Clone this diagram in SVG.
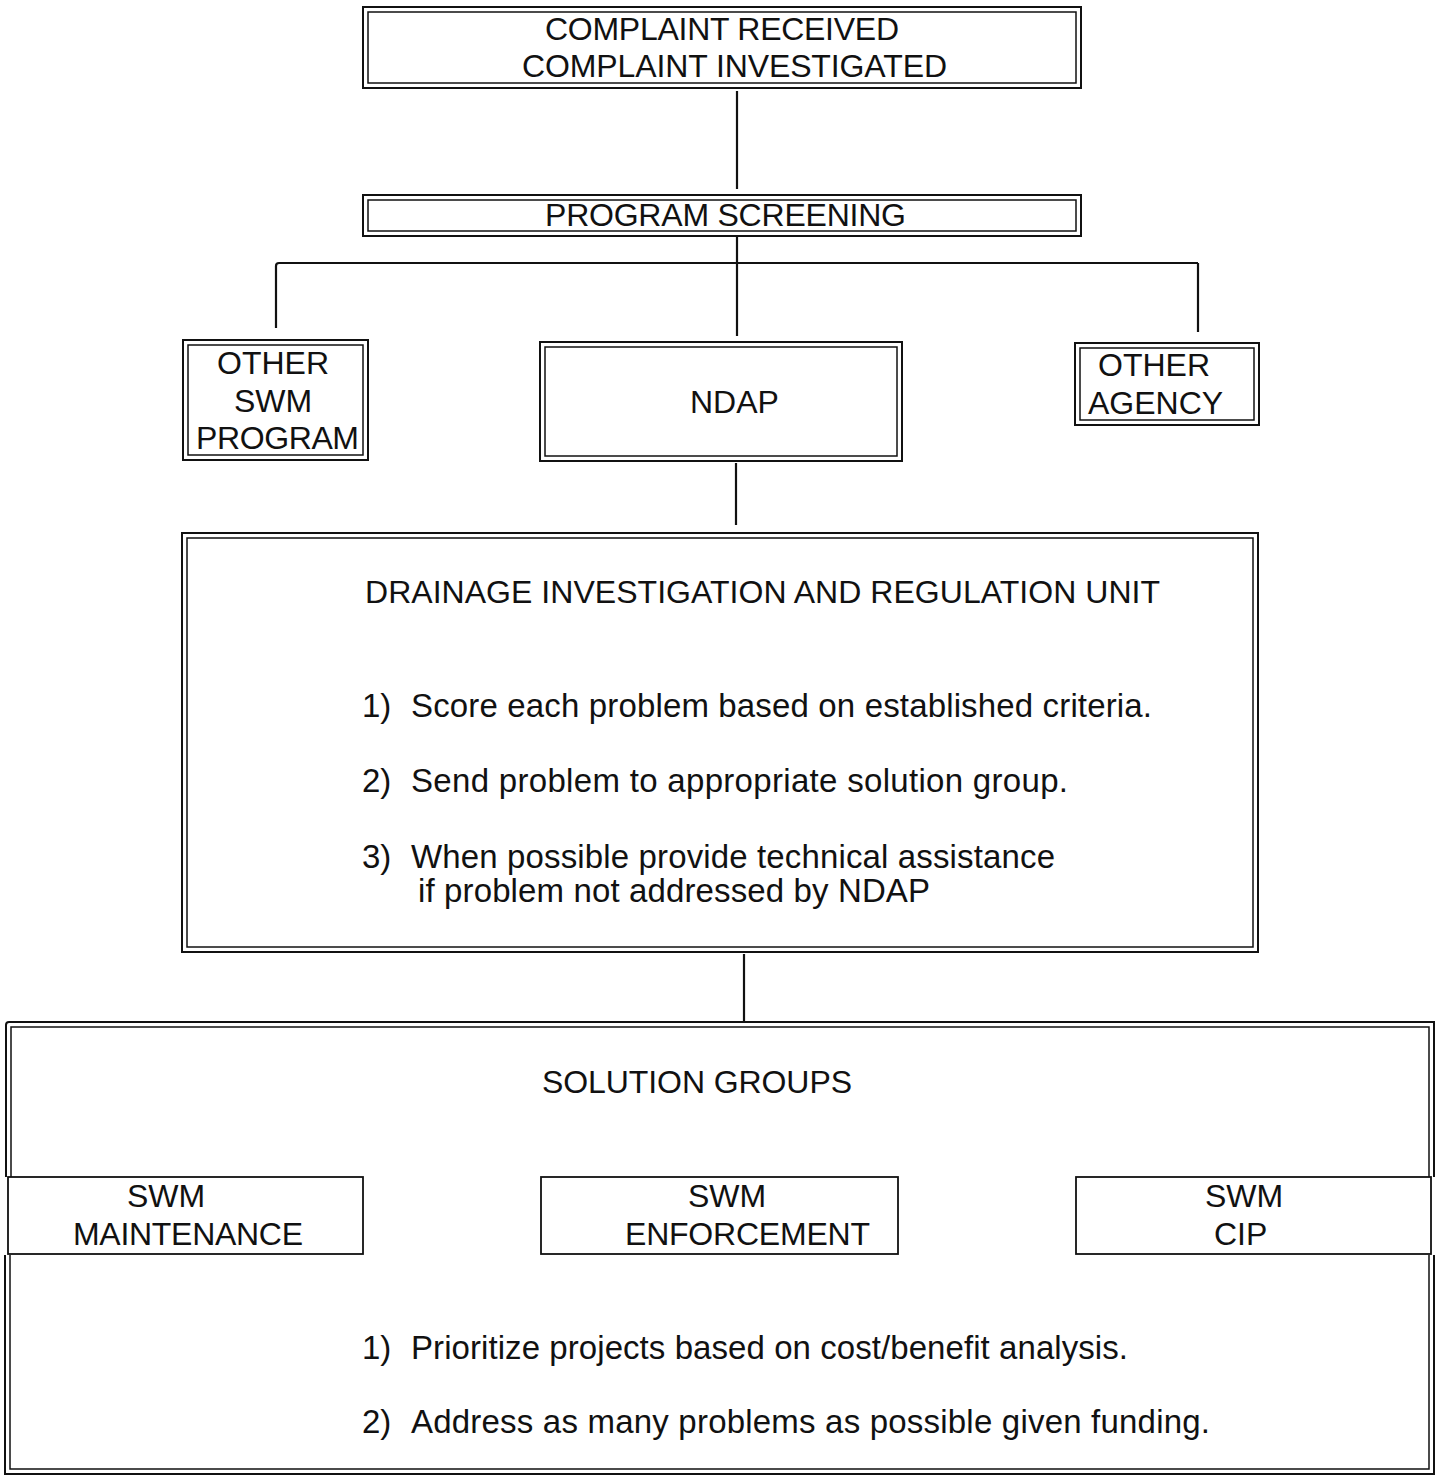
<svg xmlns="http://www.w3.org/2000/svg" width="1440" height="1476" viewBox="0 0 1440 1476">
<style>
  .bg { fill: #ffffff; }
  .outer { fill: none; stroke: #111111; stroke-width: 2; }
  .inner { fill: none; stroke: #111111; stroke-width: 1.5; }
  .single { fill: none; stroke: #111111; stroke-width: 1.8; }
  .conn { fill: none; stroke: #111111; stroke-width: 2.2; }
  .cap { font-family: "Liberation Sans", Arial, Helvetica, sans-serif; font-size: 32px; fill: #111111; }
  .body { font-family: "Liberation Sans", Arial, Helvetica, sans-serif; font-size: 33px; fill: #111111; }
</style>
<rect class="bg" x="0" y="0" width="1440" height="1476"/>

<g id="connectors">
  <line class="conn" x1="737" y1="91" x2="737" y2="189"/>
  <line class="conn" x1="737" y1="237" x2="737" y2="336"/>
  <path class="conn" d="M276,328 V266 Q276,263 279,263 H1198"/>
  <line class="conn" x1="1198" y1="263" x2="1198" y2="332"/>
  <line class="conn" x1="736" y1="463" x2="736" y2="525"/>
  <line class="conn" x1="744" y1="954" x2="744" y2="1021"/>
</g>

<g id="complaint">
  <rect class="outer" x="363" y="7" width="718" height="81"/>
  <rect class="inner" x="368" y="12" width="708" height="71"/>
  <text class="cap" x="545" y="40" textLength="354">COMPLAINT RECEIVED</text>
  <text class="cap" x="522" y="77" textLength="425">COMPLAINT INVESTIGATED</text>
</g>

<g id="screening">
  <rect class="outer" x="363" y="195" width="718" height="41"/>
  <rect class="inner" x="368" y="200" width="708" height="31"/>
  <text class="cap" x="545" y="226" textLength="361">PROGRAM SCREENING</text>
</g>

<g id="other-swm">
  <rect class="outer" x="183" y="340" width="185" height="120"/>
  <rect class="inner" x="188" y="345" width="175" height="110"/>
  <text class="cap" x="217" y="374">OTHER</text>
  <text class="cap" x="234" y="412">SWM</text>
  <text class="cap" x="196" y="449" textLength="163">PROGRAM</text>
</g>

<g id="ndap">
  <rect class="outer" x="540" y="342" width="362" height="119"/>
  <rect class="inner" x="545" y="347" width="352" height="109"/>
  <text class="cap" x="690" y="413">NDAP</text>
</g>

<g id="other-agency">
  <rect class="outer" x="1075" y="343" width="184" height="82"/>
  <rect class="inner" x="1080" y="348" width="174" height="72"/>
  <text class="cap" x="1098" y="376">OTHER</text>
  <text class="cap" x="1088" y="414">AGENCY</text>
</g>

<g id="diru">
  <rect class="outer" x="182" y="533" width="1076" height="419"/>
  <rect class="inner" x="187" y="538" width="1066" height="409"/>
  <text class="cap" x="365" y="603" textLength="795">DRAINAGE INVESTIGATION AND REGULATION UNIT</text>
  <text class="body" x="362" y="717">1)</text>
  <text class="body" x="411" y="717" textLength="741">Score each problem based on established criteria.</text>
  <text class="body" x="362" y="792">2)</text>
  <text class="body" x="411" y="792" textLength="657">Send problem to appropriate solution group.</text>
  <text class="body" x="362" y="868">3)</text>
  <text class="body" x="411" y="868" textLength="644">When possible provide technical assistance</text>
  <text class="body" x="418" y="902" textLength="512">if problem not addressed by NDAP</text>
</g>

<g id="solution-groups">
  <path class="outer" d="M6,1177 V1025 Q6,1022 9,1022 H1434 V1177"/>
  <path class="inner" d="M11,1177 V1027 H1429 V1177"/>
  <path class="outer" d="M5,1255 V1474 H1434 V1255"/>
  <path class="inner" d="M10,1255 V1469 H1429 V1255"/>
  <text class="cap" x="542" y="1093" textLength="310">SOLUTION GROUPS</text>
  <text class="body" x="362" y="1359">1)</text>
  <text class="body" x="411" y="1359" textLength="717">Prioritize projects based on cost/benefit analysis.</text>
  <text class="body" x="362" y="1433">2)</text>
  <text class="body" x="411" y="1433" textLength="799">Address as many problems as possible given funding.</text>
</g>

<g id="swm-maintenance">
  <rect class="single" x="8" y="1177" width="355" height="77"/>
  <text class="cap" x="127" y="1207">SWM</text>
  <text class="cap" x="73" y="1245" textLength="230">MAINTENANCE</text>
</g>

<g id="swm-enforcement">
  <rect class="single" x="541" y="1177" width="357" height="77"/>
  <text class="cap" x="688" y="1207">SWM</text>
  <text class="cap" x="625" y="1245" textLength="245">ENFORCEMENT</text>
</g>

<g id="swm-cip">
  <rect class="single" x="1076" y="1177" width="355" height="77"/>
  <text class="cap" x="1205" y="1207">SWM</text>
  <text class="cap" x="1214" y="1245">CIP</text>
</g>
</svg>
